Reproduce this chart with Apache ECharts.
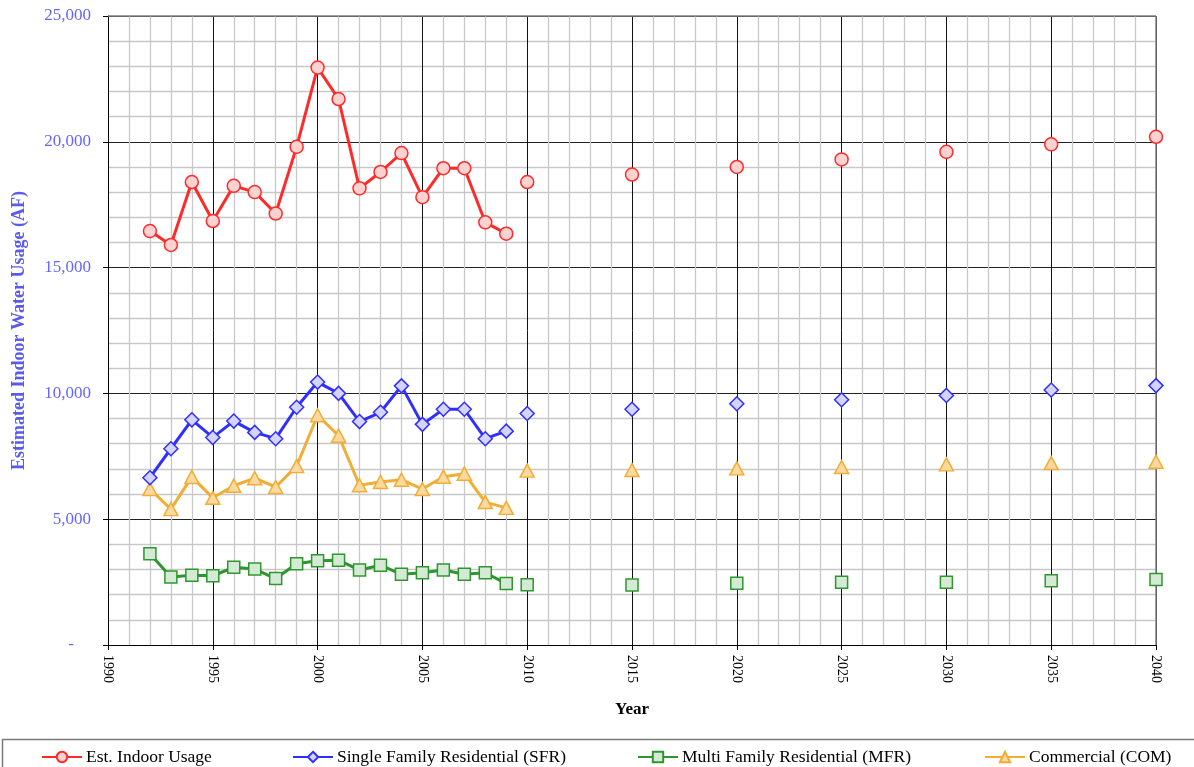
<!DOCTYPE html>
<html>
<head>
<meta charset="utf-8">
<script src="https://cdn.jsdelivr.net/npm/echarts@6/dist/echarts.min.js"></script>
<style>html,body{margin:0;padding:0;background:#fff;}#c{width:1194px;height:767px;}</style>
</head>
<body>
<div id="c"></div>
<script>
// Historical years (connected lines) and projection years (markers only)
const histYears = [1992,1993,1994,1995,1996,1997,1998,1999,2000,2001,2002,2003,2004,2005,2006,2007,2008,2009];
const projYears = [2010,2015,2020,2025,2030,2035,2040];

const indoorHist = [16450,15900,18400,16850,18250,18000,17150,19800,22950,21700,18150,18800,19550,17800,18950,18950,16800,16350];
const indoorProj = [18400,18700,19000,19300,19600,19900,20200];

const sfrHist = [6650,7800,8950,8250,8900,8450,8200,9450,10450,10000,8880,9250,10300,8770,9370,9370,8200,8500];
const sfrProj = [9200,9370,9590,9750,9920,10135,10310];

const mfrHist = [3630,2700,2770,2750,3090,3020,2640,3230,3350,3370,2980,3170,2810,2870,2980,2810,2870,2440];
const mfrProj = [2390,2385,2450,2490,2490,2555,2600];

const comHist = [6200,5400,6680,5850,6330,6630,6280,7110,9130,8320,6350,6480,6570,6200,6690,6810,5680,5450];
const comProj = [6930,6955,7020,7075,7180,7230,7285];

const names = ['Est. Indoor Usage','Single Family Residential (SFR)','Multi Family Residential (MFR)','Commercial (COM)'];
const xTicks = [1990,1995,2000,2005,2010,2015,2020,2025,2030,2035,2040];

const pair = (xs, ys) => xs.map((x, i) => [x, ys[i]]);

const styles = [
  {color:'#ff2a2a', fill:'#ffd2d2', symbol:'circle', size:13},
  {color:'#2f2fff', fill:'#d4d4ff', symbol:'diamond', size:14},
  {color:'#2f962f', fill:'#d4ead4', symbol:'rect', size:12},
  {color:'#f2ad35', fill:'#fbd9a0', symbol:'triangle', size:[14,13]}
];
const hist = [indoorHist, sfrHist, mfrHist, comHist];
const proj = [indoorProj, sfrProj, mfrProj, comProj];

const series = [];
names.forEach((n, i) => {
  const s = styles[i];
  series.push({
    name: n, type: 'line', data: pair(histYears, hist[i]),
    symbol: s.symbol, symbolSize: s.size, showAllSymbol: true,
    lineStyle: {color: s.color, width: 3},
    itemStyle: {color: s.fill, borderColor: s.color, borderWidth: 1.5},
    emphasis: {disabled: true}, z: 10 - i, animation: false
  });
  series.push({
    name: n, type: 'line', data: pair(projYears, proj[i]),
    symbol: s.symbol, symbolSize: s.size, showAllSymbol: true,
    lineStyle: {width: 0, opacity: 0},
    itemStyle: {color: s.fill, borderColor: s.color, borderWidth: 1.5},
    emphasis: {disabled: true}, z: 10 - i, animation: false
  });
});

const legendLefts = [41, 292, 637, 984];
const legends = names.map((n, i) => ({
  data: [n], left: legendLefts[i], top: 748, padding: 0, itemWidth: 40, itemHeight: 13, itemGap: 4,
  textStyle: {fontFamily: 'Liberation Serif', fontSize: 17.5, color: '#000', padding: [0,0,0,-1]},
  selectedMode: false
}));

const chart = echarts.init(document.getElementById('c'), null, {renderer: 'canvas'});
chart.setOption({
  animation: false,
  backgroundColor: '#fff',
  grid: {left: 108, right: 38, top: 16, bottom: 122, containLabel: false},
  legend: legends,
  xAxis: {
    type: 'value', min: 1990, max: 2040, interval: 5,
    name: 'Year', nameLocation: 'middle', nameGap: 56,
    nameTextStyle: {fontFamily: 'Liberation Serif', fontSize: 17, fontWeight: 'bold', color: '#000'},
    axisLine: {show: true, lineStyle: {color: '#000', width: 1}},
    axisTick: {show: true, length: 5, lineStyle: {color: '#000'}},
    axisLabel: {rotate: -90, margin: 10, fontFamily: 'Liberation Serif', fontSize: 14, color: '#000',
      formatter: v => xTicks.includes(v) ? String(v) : ''},
    splitLine: {show: true, lineStyle: {color: '#111', width: 1}},
    minorTick: {show: false, splitNumber: 5},
    minorSplitLine: {show: true, lineStyle: {color: '#c8c8c8', width: 1.3}}
  },
  yAxis: {
    type: 'value', min: 0, max: 25000, interval: 5000,
    name: 'Estimated Indoor Water Usage (AF)', nameLocation: 'middle', nameGap: 80,
    nameTextStyle: {fontFamily: 'Liberation Serif', fontSize: 18, fontWeight: 'bold', color: '#5a5af0'},
    axisLine: {show: true, lineStyle: {color: '#000', width: 1}},
    axisTick: {show: true, length: 5, lineStyle: {color: '#000'}},
    axisLabel: {margin: 17, fontFamily: 'Liberation Serif', fontSize: 17, color: '#6666ff',
      formatter: v => v === 0 ? '-    ' : v.toLocaleString('en-US')},
    splitLine: {show: true, lineStyle: {color: '#222', width: 1}},
    minorTick: {show: false, splitNumber: 5},
    minorSplitLine: {show: true, lineStyle: {color: '#c8c8c8', width: 1.3}}
  },
  graphic: [
    {type: 'rect', shape: {x: 2.5, y: 739.5, width: 1200, height: 40},
     style: {fill: 'none', stroke: '#7a7a7a', lineWidth: 1.5}, silent: true},
    {type: 'line', shape: {x1: 108, y1: 16, x2: 1156, y2: 16},
     style: {stroke: '#808080', lineWidth: 1.5}, silent: true, z: 5},
    {type: 'line', shape: {x1: 1156, y1: 16, x2: 1156, y2: 645},
     style: {stroke: '#808080', lineWidth: 1.5}, silent: true, z: 5}
  ],
  series: series
});
</script>
</body>
</html>
